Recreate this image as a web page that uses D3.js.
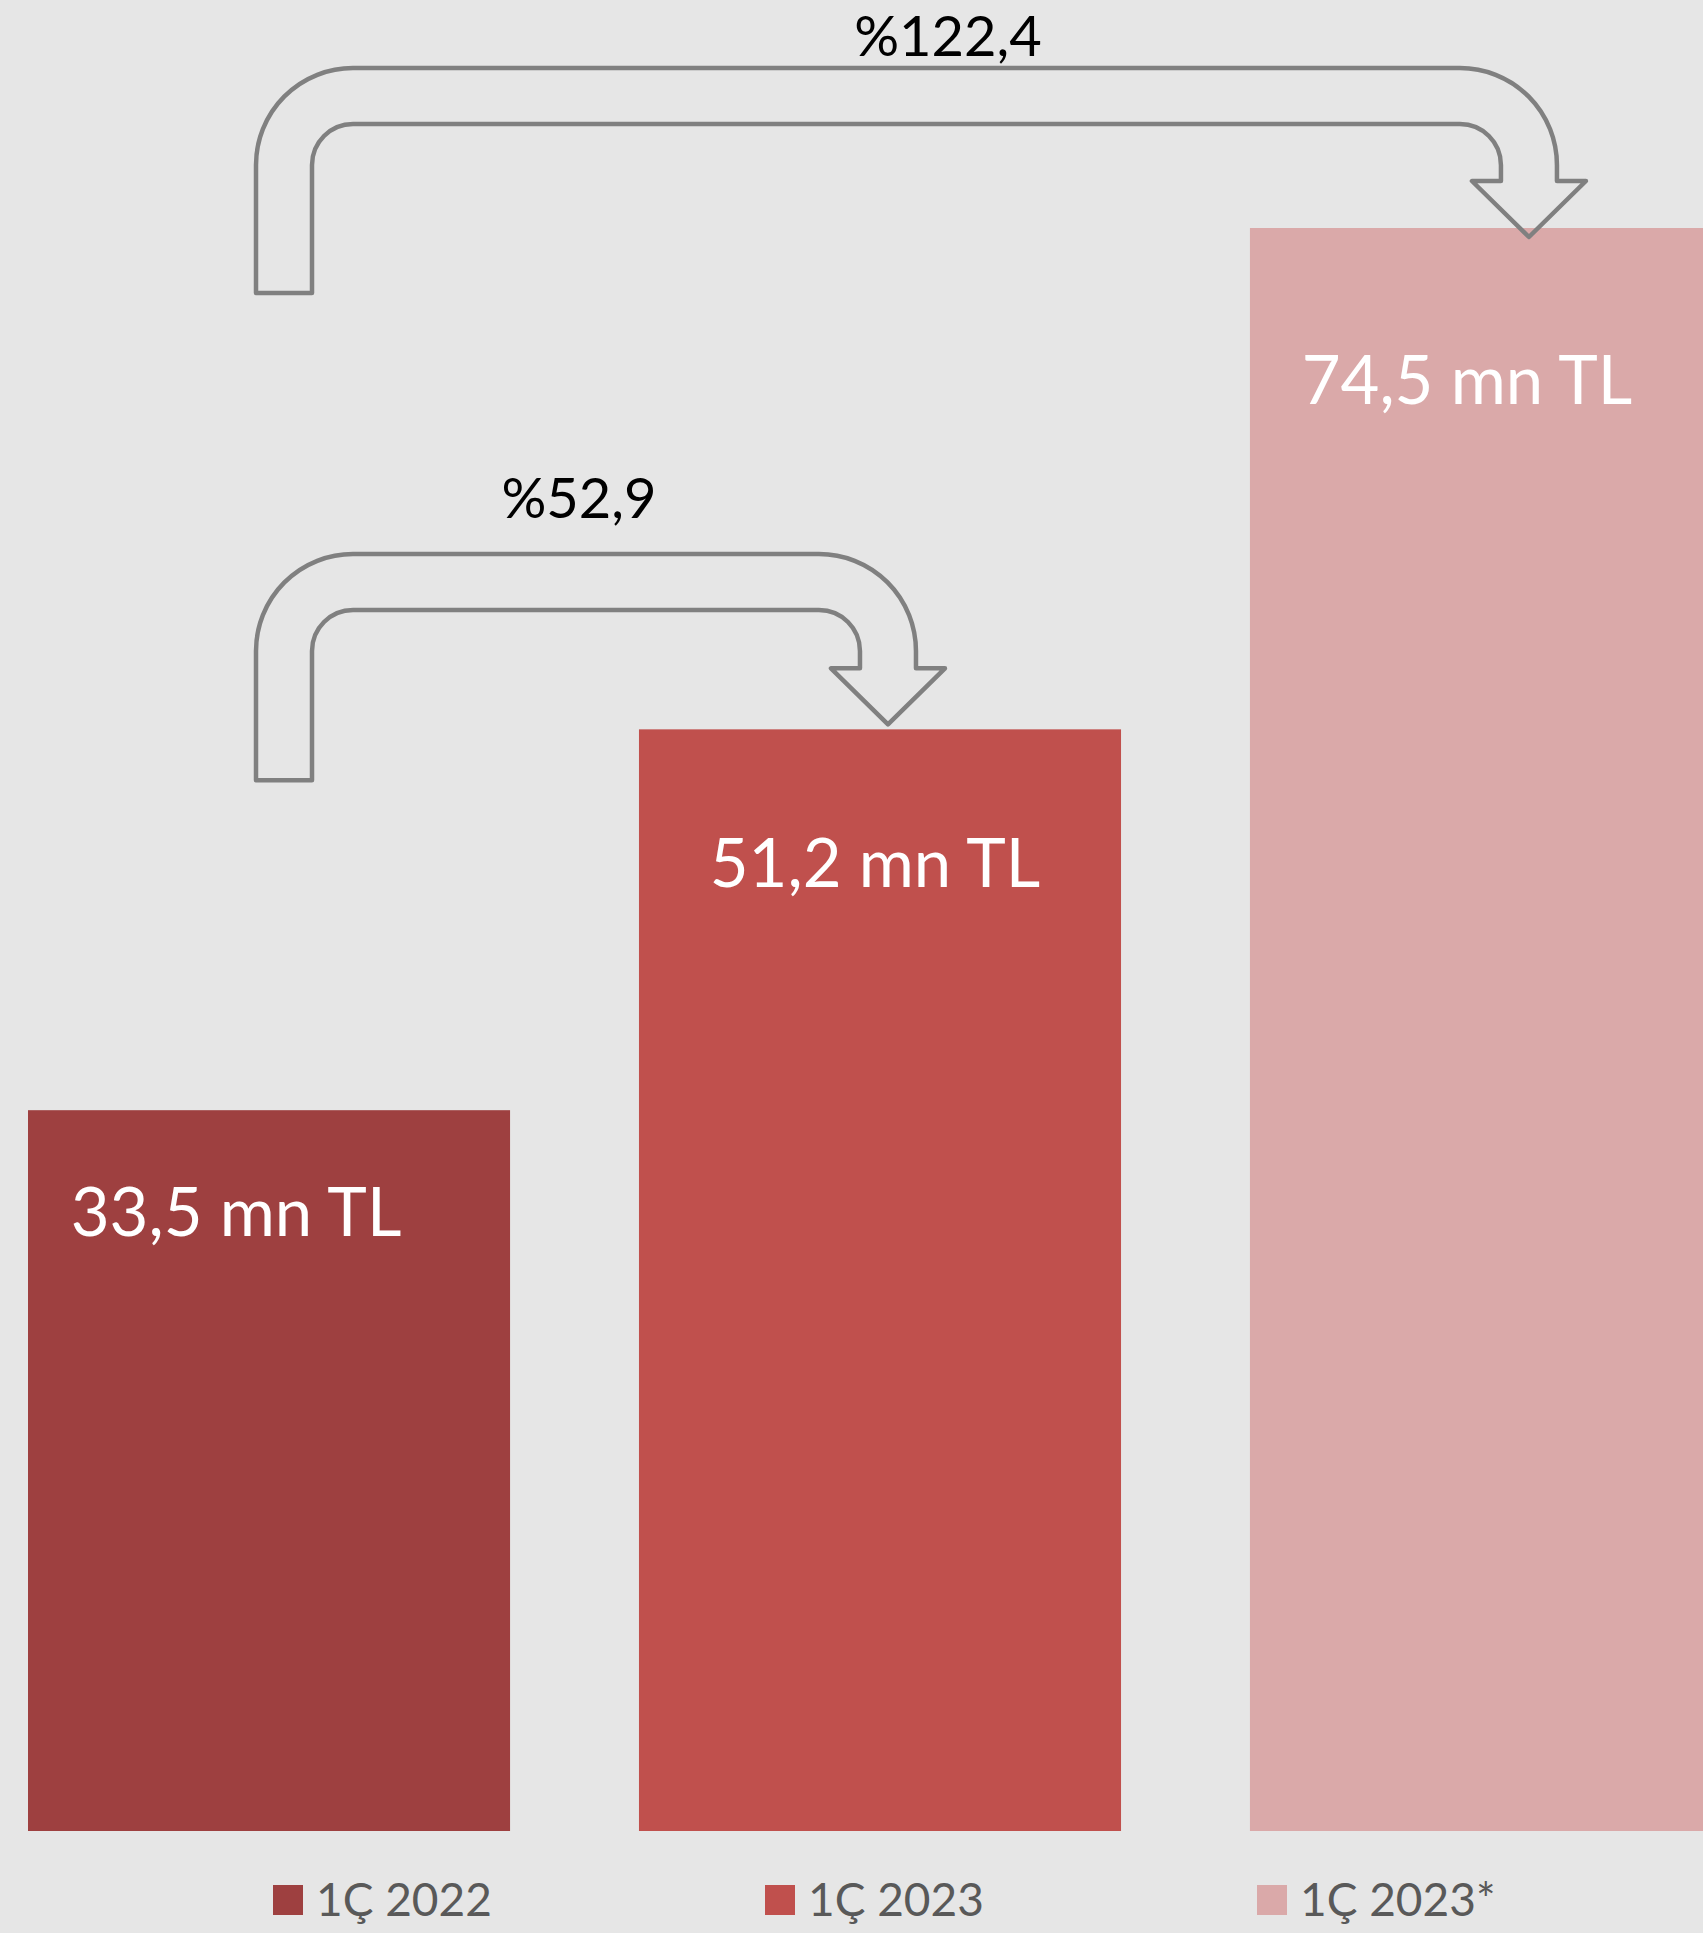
<!DOCTYPE html>
<html>
<head>
<meta charset="utf-8">
<script src="https://cdn.jsdelivr.net/npm/d3@7"></script>
<style>
    body { margin: 0; background: #e6e6e6; }
    svg { display: block; font-family: Lato, "Open Sans", sans-serif; }
</style>
</head>
<body>
<div id="chart"></div>
<script>
// chart values
const categories = ["1Ç 2022", "1Ç 2023", "1Ç 2023*"];
const values = [33.5, 51.2, 74.5];
const valueLabels = ["33,5 mn TL", "51,2 mn TL", "74,5 mn TL"];
const growthLabels = ["%52,9", "%122,4"];
const growthTargets = [1, 2];
const colors = ["#9e4040", "#c0504d", "#daa9a9"];

// set the dimensions of the graph
let width = 1703,
    height = 1933;

let svg = d3.select("#chart")
    .append("svg")
    .attr("width", width)
    .attr("height", height);

svg.append("rect")
    .attr("width", width)
    .attr("height", height)
    .attr("fill", "#e6e6e6");

// scales (last bar runs off the right edge like the original)
const x = d3.scaleBand()
    .domain(categories)
    .range([28, 1732])
    .paddingInner(0.211)
    .paddingOuter(0);

const y = d3.scaleLinear()
    .domain([0, d3.max(values)])
    .range([1831, 228]);

// bars
svg.selectAll("rect.bar")
    .data(values)
    .enter()
    .append("rect")
    .attr("class", "bar")
    .attr("x", function(d, i) { return x(categories[i]) })
    .attr("y", function(d) { return y(d) })
    .attr("width", x.bandwidth())
    .attr("height", function(d) { return y(0) - y(d) })
    .attr("fill", function(d, i) { return colors[i] });

// value labels inside bars (hand placed in the source, so small nudges)
const labelDx = [-33, -5, -24];
const labelDy = [126, 158, 176];

svg.selectAll("text.value")
    .data(values)
    .enter()
    .append("text")
    .attr("class", "value")
    .attr("x", function(d, i) { return x(categories[i]) + x.bandwidth() / 2 + labelDx[i] })
    .attr("y", function(d, i) { return y(d) + labelDy[i] })
    .attr("text-anchor", "middle")
    .attr("fill", "#ffffff")
    .attr("font-size", 67)
    .text(function(d, i) { return valueLabels[i] });

// u-turn growth arrows
const arrowLayout = [
    {top: 554, tipDx: 249, tipDy: -5, labelX: 579, labelY: 518},
    {top: 68, tipDx: 279, tipDy: 9, labelX: 948, labelY: 56}
];
const shaft = 56, rOut = 97, rIn = rOut - shaft, headHalf = 57, headH = 56;

function uturn(a, target) {
    const xL = x(categories[0]) + 228;
    const xc = x(categories[target]) + a.tipDx;
    const tipY = y(values[target]) + a.tipDy;
    const baseY = tipY - headH;
    const bottom = tipY + headH;
    const xRo = xc + shaft / 2, xRi = xc - shaft / 2;
    const t = a.top;
    const p = d3.path();
    p.moveTo(xL, bottom);
    p.lineTo(xL, t + rOut);
    p.arcTo(xL, t, xL + rOut, t, rOut);
    p.lineTo(xRo - rOut, t);
    p.arcTo(xRo, t, xRo, t + rOut, rOut);
    p.lineTo(xRo, baseY);
    p.lineTo(xc + headHalf, baseY);
    p.lineTo(xc, tipY);
    p.lineTo(xc - headHalf, baseY);
    p.lineTo(xRi, baseY);
    p.lineTo(xRi, t + shaft + rIn);
    p.arcTo(xRi, t + shaft, xRi - rIn, t + shaft, rIn);
    p.lineTo(xL + shaft + rIn, t + shaft);
    p.arcTo(xL + shaft, t + shaft, xL + shaft, t + shaft + rIn, rIn);
    p.lineTo(xL + shaft, bottom);
    p.closePath();
    return p.toString();
}

svg.selectAll("path.arrow")
    .data(arrowLayout)
    .enter()
    .append("path")
    .attr("class", "arrow")
    .attr("d", function(d, i) { return uturn(d, growthTargets[i]) })
    .attr("fill", "none")
    .attr("stroke", "#808080")
    .attr("stroke-width", 4.5)
    .attr("stroke-linejoin", "round");

svg.selectAll("text.growth")
    .data(arrowLayout)
    .enter()
    .append("text")
    .attr("class", "growth")
    .attr("x", function(d) { return d.labelX })
    .attr("y", function(d) { return d.labelY })
    .attr("text-anchor", "middle")
    .attr("fill", "#000000")
    .attr("font-size", 56)
    .text(function(d, i) { return growthLabels[i] });

// legend
let legend = svg.selectAll("g.legend")
    .data(categories)
    .enter()
    .append("g")
    .attr("class", "legend")
    .attr("transform", function(d, i) { return "translate(" + (273 + i * 492) + ",1885)" });

legend.append("rect")
    .attr("width", 30)
    .attr("height", 30)
    .attr("fill", function(d, i) { return colors[i] });

legend.append("text")
    .attr("x", 43)
    .attr("y", 31)
    .attr("fill", "#595959")
    .attr("font-size", 46)
    .text(function(d) { return d });
</script>
</body>
</html>
